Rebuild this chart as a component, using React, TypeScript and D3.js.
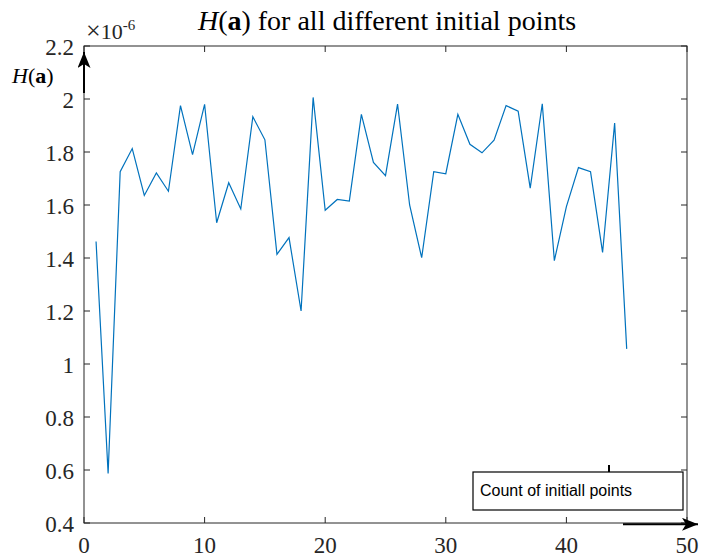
import React from "react";
import * as d3 from "d3";

// H(a) values, in units of 1e-6, one per initial point (1..45)
const hValues = [
  1.462, 0.587, 1.726, 1.813, 1.636, 1.721, 1.652, 1.975, 1.79, 1.98,
  1.533, 1.684, 1.585, 1.933, 1.846, 1.414, 1.477, 1.2, 2.006, 1.58,
  1.621, 1.615, 1.942, 1.761, 1.711, 1.981, 1.6, 1.401, 1.726, 1.718,
  1.942, 1.829, 1.797, 1.845, 1.975, 1.954, 1.664, 1.982, 1.39, 1.594,
  1.741, 1.726, 1.421, 1.909, 1.057,
];
const xTicks = [0, 10, 20, 30, 40, 50];
const yTicks = [0.4, 0.6, 0.8, 1, 1.2, 1.4, 1.6, 1.8, 2, 2.2];
const yTickLabels = ["0.4", "0.6", "0.8", "1", "1.2", "1.4", "1.6", "1.8", "2", "2.2"];

const W = 703;
const H = 560;
const left = 84;
const right = 687;
const top = 46;
const bottom = 523;
const serif = "'Liberation Serif', 'Times New Roman', serif";
const axisColor = "#262626";

export default function App() {
  const x = d3.scaleLinear().domain([0, 50]).range([left, right]);
  const y = d3.scaleLinear().domain([0.4, 2.2]).range([bottom, top]);

  const line = d3
    .line<number>()
    .x((_, i) => x(i + 1))
    .y((d) => y(d));

  const tickLen = 6;

  return (
    <svg
      width={W}
      height={H}
      style={{ position: "absolute", left: 0, top: 0, background: "#fff" }}
    >
      <defs>
        <marker
          id="arrow"
          viewBox="0 0 16 13"
          refX="16"
          refY="6.5"
          markerWidth="16"
          markerHeight="13"
          markerUnits="userSpaceOnUse"
          orient="auto"
        >
          <path d="M0,0 L16,6.5 L0,13 L4,6.5 z" fill="#000" />
        </marker>
      </defs>
      <rect x={0} y={0} width={W} height={H} fill="#fff" />

      {/* title */}
      <text x={387} y={30} textAnchor="middle" fontFamily={serif} fontSize={28} fill="#000">
        <tspan fontStyle="italic">H</tspan>
        <tspan>(</tspan>
        <tspan fontWeight="bold">a</tspan>
        <tspan>) for all different initial points</tspan>
      </text>

      {/* exponent */}
      <text x={86} y={39} fontFamily={serif} fontSize={22} fill={axisColor}>
        <tspan fontSize={26}>×</tspan>
        <tspan>10</tspan>
        <tspan dy={-9} fontSize={15}>-6</tspan>
      </text>

      {/* y label */}
      <text x={12} y={83} fontFamily={serif} fontSize={22} fill="#000">
        <tspan fontStyle="italic">H</tspan>
        <tspan>(</tspan>
        <tspan fontWeight="bold">a</tspan>
        <tspan>)</tspan>
      </text>

      {/* data line */}
      <path d={line(hValues) ?? ""} fill="none" stroke="#0072BD" strokeWidth={1.2} />

      {/* box */}
      <rect x={left} y={top} width={right - left} height={bottom - top} fill="none" stroke={axisColor} strokeWidth={1} />

      {/* x ticks */}
      {xTicks.map((t) => (
        <g key={"x" + t}>
          <line x1={x(t)} x2={x(t)} y1={bottom} y2={bottom - tickLen} stroke={axisColor} />
          <line x1={x(t)} x2={x(t)} y1={top} y2={top + tickLen} stroke={axisColor} />
          <text x={x(t)} y={553} textAnchor="middle" fontFamily={serif} fontSize={23} fill={axisColor}>
            {t}
          </text>
        </g>
      ))}

      {/* y ticks */}
      {yTicks.map((t, i) => (
        <g key={"y" + t}>
          <line x1={left} x2={left + tickLen} y1={y(t)} y2={y(t)} stroke={axisColor} />
          <line x1={right} x2={right - tickLen} y1={y(t)} y2={y(t)} stroke={axisColor} />
          <text x={74} y={y(t) + 9} textAnchor="end" fontFamily={serif} fontSize={23} fill={axisColor}>
            {yTickLabels[i]}
          </text>
        </g>
      ))}

      {/* y-axis arrow */}
      <line x1={left} x2={left} y1={93} y2={52} stroke="#000" strokeWidth={2} markerEnd="url(#arrow)" />

      {/* x-axis arrow */}
      <line x1={623} x2={698} y1={524.3} y2={524.3} stroke="#000" strokeWidth={2} markerEnd="url(#arrow)" />

      {/* annotation box */}
      <line x1={609} x2={609} y1={465} y2={472} stroke="#000" strokeWidth={2} />
      <rect x={473} y={472} width={210} height={38} fill="#fff" stroke="#000" strokeWidth={1.2} />
      <text x={480} y={496} fontFamily="'Liberation Sans', Arial, sans-serif" fontSize={16} fill="#000">
        Count of initiall points
      </text>
    </svg>
  );
}
